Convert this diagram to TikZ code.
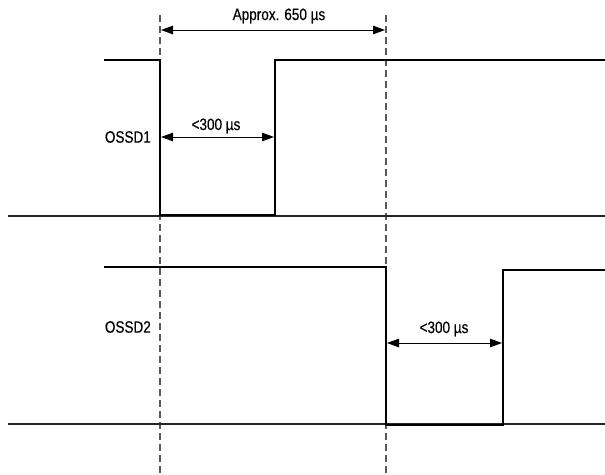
\documentclass[tikz,border=0pt]{standalone}
\usepackage{fontspec}
\setmainfont{Liberation Sans}[FakeStretch=0.82,FakeBold=0.4]
\usetikzlibrary{arrows.meta}
\begin{document}
\begin{tikzpicture}[x=1pt,y=-1pt,
  signal/.style={line width=2.4pt, line join=miter},
  base/.style={line width=1.1pt, black!85},
  guide/.style={line width=1.1pt, black!65, dash pattern=on 7pt off 4pt},
  dim/.style={line width=0.9pt, {Triangle[length=12pt,width=8.5pt]}-{Triangle[length=12pt,width=8.5pt]}},
  lbl/.style={font=\fontsize{16.5}{18}\selectfont, inner sep=0pt}]
\useasboundingbox (0,0) rectangle (605,474);
% guide lines
\coordinate (g1t) at (160,15); \coordinate (g1b) at (160,474);
\coordinate (g2t) at (386,15); \coordinate (g2b) at (386,474);
\draw[guide] (g1t) -- (g1b);
\draw[guide] (g2t) -- (g2b);
% baselines
\coordinate (b1l) at (8,216); \coordinate (b1r) at (605,216);
\coordinate (b2l) at (8,424); \coordinate (b2r) at (605,424);
\draw[base] (b1l) -- (b1r);
\draw[base] (b2l) -- (b2r);
% OSSD1 signal
\coordinate (s1a) at (104,60); \coordinate (s1b) at (160,60);
\coordinate (s1c) at (160,215); \coordinate (s1d) at (275,215);
\coordinate (s1e) at (275,60); \coordinate (s1f) at (605,60);
\draw[signal] (s1a) -- (s1b) -- (s1c) -- (s1d) -- (s1e) -- (s1f);
% OSSD2 signal
\coordinate (s2a) at (104,267); \coordinate (s2b) at (386,267);
\coordinate (s2c) at (386,425); \coordinate (s2d) at (503,425);
\coordinate (s2e) at (503,270); \coordinate (s2f) at (605,270);
\draw[signal] (s2a) -- (s2b) -- (s2c) -- (s2d) -- (s2e) -- (s2f);
% dimension arrows
\coordinate (d0l) at (161,30); \coordinate (d0r) at (385,30);
\coordinate (d1l) at (161,137); \coordinate (d1r) at (274,137);
\coordinate (d2l) at (387,343); \coordinate (d2r) at (502,343);
\draw[dim] (d0l) -- (d0r);
\draw[dim] (d1l) -- (d1r);
\draw[dim] (d2l) -- (d2r);
% labels
\node[lbl] (t0) at (279,16) {Approx. 650 µs};
\node[lbl] (t1) at (216,126) {<300 µs};
\node[lbl] (t2) at (444,329) {<300 µs};
\node[lbl, anchor=east] (n1) at (151,137) {OSSD1};
\node[lbl, anchor=east] (n2) at (151,327) {OSSD2};
\end{tikzpicture}
\end{document}
